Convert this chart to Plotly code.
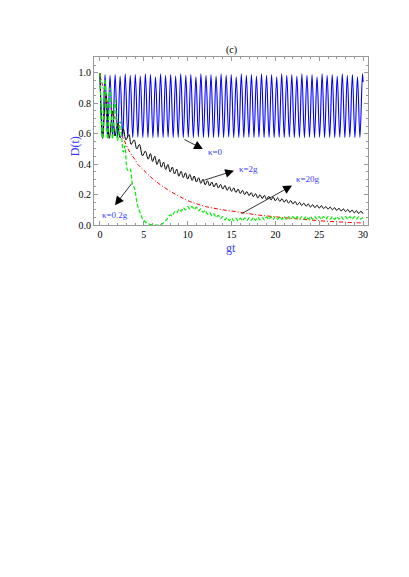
import plotly.graph_objects as go

# kappa = 0 (blue, undamped oscillation) - peaks / troughs
t_k0 = [0.00, 0.29, 0.58, 0.86, 1.15, 1.44, 1.73, 2.01, 2.30, 2.59,
        2.88, 3.17, 3.45, 3.74, 4.03, 4.32, 4.60, 4.89, 5.18, 5.47,
        5.76, 6.04, 6.33, 6.62, 6.91, 7.20, 7.48, 7.77, 8.06, 8.35,
        8.63, 8.92, 9.21, 9.50, 9.79, 10.07, 10.36, 10.65, 10.94, 11.22,
        11.51, 11.80, 12.09, 12.38, 12.66, 12.95, 13.24, 13.53, 13.81, 14.10,
        14.39, 14.68, 14.97, 15.25, 15.54, 15.83, 16.12, 16.40, 16.69, 16.98,
        17.27, 17.56, 17.84, 18.13, 18.42, 18.71, 18.99, 19.28, 19.57, 19.86,
        20.15, 20.43, 20.72, 21.01, 21.30, 21.59, 21.87, 22.16, 22.45, 22.74,
        23.02, 23.31, 23.60, 23.89, 24.18, 24.46, 24.75, 25.04, 25.33, 25.61,
        25.90, 26.19, 26.48, 26.77, 27.05, 27.34, 27.63, 27.92, 28.20, 28.49,
        28.78, 29.07, 29.36, 29.64, 29.93, 30.00]
d_k0 = [1.00, 0.575, 0.99, 0.575, 0.985, 0.578, 0.99, 0.576, 0.98, 0.575,
        0.995, 0.577, 0.985, 0.575, 0.99, 0.578, 0.98, 0.575, 0.995, 0.576,
        0.99, 0.575, 0.975, 0.577, 0.995, 0.575, 0.985, 0.578, 0.99, 0.575,
        0.98, 0.576, 0.995, 0.575, 0.985, 0.577, 0.99, 0.575, 0.975, 0.578,
        0.995, 0.575, 0.985, 0.576, 0.99, 0.575, 0.98, 0.577, 0.995, 0.575,
        0.985, 0.578, 0.99, 0.575, 0.975, 0.576, 0.995, 0.575, 0.985, 0.577,
        0.99, 0.575, 0.98, 0.578, 0.995, 0.575, 0.985, 0.576, 0.99, 0.575,
        0.975, 0.577, 0.995, 0.575, 0.985, 0.578, 0.99, 0.575, 0.98, 0.576,
        0.995, 0.575, 0.985, 0.577, 0.99, 0.575, 0.975, 0.578, 0.995, 0.575,
        0.985, 0.576, 0.99, 0.575, 0.98, 0.577, 0.995, 0.575, 0.985, 0.578,
        0.99, 0.575, 0.975, 0.576, 0.995, 0.94]

# kappa = 2g (black)
t_k2 = [0.00, 0.30, 0.68, 1.06, 1.44, 1.72, 2.00, 2.30, 2.66, 2.96,
        3.30, 3.55, 3.90, 4.20, 4.50, 4.85, 5.17,
        5.50, 5.75, 6.00, 6.25, 6.50, 6.75, 7.00, 7.25, 7.50, 7.75,
        8.00, 8.25, 8.50, 8.75, 9.00, 9.25, 9.50, 9.75, 10.00, 10.25,
        10.50, 10.75, 11.00, 11.25, 11.50, 11.75, 12.00, 12.25, 12.50, 12.75,
        13.00, 13.25, 13.50, 13.75, 14.00, 14.25, 14.50, 14.75, 15.00, 15.25,
        15.50, 15.75, 16.00, 16.25, 16.50, 16.75, 17.00, 17.25, 17.50, 17.75,
        18.00, 18.25, 18.50, 18.75, 19.00, 19.25, 19.50, 19.75, 20.00, 20.25,
        20.50, 20.75, 21.00, 21.25, 21.50, 21.75, 22.00, 22.25, 22.50, 22.75,
        23.00, 23.25, 23.50, 23.75, 24.00, 24.25, 24.50, 24.75, 25.00, 25.25,
        25.50, 25.75, 26.00, 26.25, 26.50, 26.75, 27.00, 27.25, 27.50, 27.75,
        28.00, 28.25, 28.50, 28.75, 29.00, 29.25, 29.50, 29.75, 30.00]
d_k2 = [1.000, 0.570, 0.860, 0.570, 0.750, 0.585, 0.670, 0.574, 0.630, 0.560,
        0.595, 0.530, 0.560, 0.500, 0.530, 0.455, 0.486,
        0.433, 0.470, 0.418, 0.452, 0.398, 0.432, 0.380, 0.413, 0.365, 0.398,
        0.350, 0.381, 0.336, 0.367, 0.321, 0.353, 0.312, 0.343, 0.302, 0.332,
        0.293, 0.322, 0.283, 0.311, 0.274, 0.301, 0.264, 0.291, 0.257, 0.283,
        0.250, 0.276, 0.243, 0.267, 0.236, 0.260, 0.228, 0.251, 0.222, 0.244,
        0.214, 0.236, 0.207, 0.228, 0.200, 0.220, 0.193, 0.213, 0.186, 0.206,
        0.178, 0.199, 0.174, 0.194, 0.169, 0.189, 0.164, 0.184, 0.159, 0.178,
        0.155, 0.173, 0.150, 0.167, 0.144, 0.161, 0.138, 0.155, 0.132, 0.149,
        0.128, 0.144, 0.123, 0.139, 0.118, 0.134, 0.114, 0.130, 0.111, 0.127,
        0.108, 0.122, 0.104, 0.118, 0.100, 0.114, 0.096, 0.110, 0.092, 0.106,
        0.088, 0.102, 0.084, 0.098, 0.080, 0.094, 0.076, 0.090, 0.074]

# kappa = 20g (red, dash-dot)
t_k20 = [0.0, 0.25, 0.5, 0.75, 1.0, 1.25, 1.5, 2.0, 2.4, 3.0, 3.5, 4.0, 4.3,
         5.0, 6.0, 7.0, 8.0, 9.0, 10.0, 11.0, 12.0, 13.0, 14.0, 15.0, 16.0,
         17.0, 18.0, 20.0, 22.0, 24.0, 26.0, 28.0, 30.0]
d_k20 = [1.0, 0.93, 0.87, 0.82, 0.79, 0.765, 0.73, 0.665, 0.61, 0.525, 0.47,
         0.43, 0.40, 0.36, 0.305, 0.26, 0.222, 0.19, 0.16, 0.14, 0.122, 0.11,
         0.10, 0.092, 0.083, 0.074, 0.066, 0.054, 0.043, 0.033, 0.024, 0.018,
         0.013]

# kappa = 0.2g (green, dashed)
t_k02 = [0.00, 0.29, 0.57, 0.86, 1.14, 1.43, 1.72, 2.00, 2.30, 2.66,
         2.85, 3.15, 3.42, 3.70, 3.95, 4.20, 4.40, 4.65, 4.90, 5.30,
         5.70, 6.20, 6.70, 7.20, 7.60,
         8.00, 8.25, 8.50, 8.75, 9.00, 9.25, 9.50, 9.75, 10.00, 10.25,
         10.50, 10.75, 11.00, 11.25, 11.50, 11.75, 12.00, 12.25, 12.50, 12.75,
         13.00, 13.25, 13.50, 13.75, 14.00, 14.25, 14.50, 14.75, 15.00, 15.25,
         15.50, 15.75, 16.00, 16.25, 16.50, 16.75, 17.00, 17.25, 17.50, 17.75,
         18.00, 18.25, 18.50, 18.75, 19.00, 19.25, 19.50, 19.75, 20.00, 20.25,
         20.50, 20.75, 21.00, 21.25, 21.50, 21.75, 22.00, 22.25, 22.50, 22.75,
         23.00, 23.25, 23.50, 23.75, 24.00, 24.25, 24.50, 24.75, 25.00, 25.25,
         25.50, 25.75, 26.00, 26.25, 26.50, 26.75, 27.00, 27.25, 27.50, 27.75,
         28.00, 28.25, 28.50, 28.75, 29.00, 29.25, 29.50, 29.75, 30.00]
d_k02 = [1.000, 0.570, 0.960, 0.565, 0.900, 0.565, 0.820, 0.555, 0.680, 0.480,
         0.520, 0.360, 0.370, 0.270, 0.240, 0.150, 0.110, 0.070, 0.036, 0.015,
         0.004, 0.000, 0.000, 0.012, 0.035,
         0.067, 0.059, 0.087, 0.078, 0.104, 0.091, 0.114, 0.100, 0.121, 0.104,
         0.122, 0.102, 0.117, 0.094, 0.107, 0.084, 0.096, 0.072, 0.084, 0.060,
         0.073, 0.050, 0.063, 0.041, 0.055, 0.034, 0.049, 0.029, 0.046, 0.027,
         0.045, 0.027, 0.045, 0.028, 0.046, 0.029, 0.047, 0.030, 0.049, 0.031,
         0.050, 0.033, 0.051, 0.034, 0.053, 0.035, 0.054, 0.036, 0.055, 0.037,
         0.055, 0.037, 0.055, 0.038, 0.056, 0.038, 0.056, 0.038, 0.055, 0.037,
         0.055, 0.038, 0.056, 0.038, 0.056, 0.038, 0.055, 0.037, 0.055, 0.038,
         0.056, 0.038, 0.056, 0.038, 0.055, 0.037, 0.055, 0.038, 0.056, 0.038,
         0.056, 0.038, 0.055, 0.037, 0.055, 0.038, 0.056, 0.038, 0.055]

x_ticks = [0, 5, 10, 15, 20, 25, 30]
y_ticks = [0.0, 0.2, 0.4, 0.6, 0.8, 1.0]

# curve labels: text, label position, arrow tail, arrow head
labels = [
    ("κ=0", 13.2, 0.477, 9.46, 0.567, 11.74, 0.50),
    ("κ=2g", 16.9, 0.369, 11.74, 0.292, 15.28, 0.357),
    ("κ=20g", 23.7, 0.305, 15.96, 0.069, 21.9, 0.259),
    ("κ=0.2g", 1.7, 0.064, 3.73, 0.281, 1.71, 0.13),
]

serif = "Liberation Serif, Times New Roman, serif"
label_blue = "#3c3cff"

fig = go.Figure()
fig.add_trace(go.Scatter(x=t_k0, y=d_k0, mode="lines",
                         line=dict(color="#0000ff", width=1.1, shape="spline")))
fig.add_trace(go.Scatter(x=t_k2, y=d_k2, mode="lines",
                         line=dict(color="#000000", width=1.0, shape="spline")))
fig.add_trace(go.Scatter(x=t_k20, y=d_k20, mode="lines",
                         line=dict(color="#ff0000", width=1.0, shape="spline",
                                   dash="4px,2px,1px,2px")))
fig.add_trace(go.Scatter(x=t_k02, y=d_k02, mode="lines",
                         line=dict(color="#00ee00", width=1.2, shape="spline",
                                   dash="4px,2px")))

for text, lx, ly, tx, ty, hx, hy in labels:
    fig.add_annotation(x=hx, y=hy, ax=tx, ay=ty, xref="x", yref="y",
                       axref="x", ayref="y", text="", showarrow=True,
                       arrowhead=2, arrowsize=2.2, arrowwidth=0.8,
                       arrowcolor="black")
    fig.add_annotation(x=lx, y=ly, xref="x", yref="y", text=text,
                       showarrow=False,
                       font=dict(family=serif, size=9, color=label_blue))

fig.add_annotation(x=0.5, y=1.0, xref="paper", yref="paper", text="(c)",
                   showarrow=False, yanchor="bottom", yshift=-1,
                   font=dict(family=serif, size=10, color="black"))
fig.add_annotation(x=0.5, y=-0.135, xref="paper", yref="paper", text="gt",
                   showarrow=False, xanchor="center", yanchor="middle",
                   font=dict(family=serif, size=12, color=label_blue))
fig.add_annotation(x=-0.069, y=0.47, xref="paper", yref="paper", text="D(t)",
                   showarrow=False, textangle=-90, xanchor="center",
                   yanchor="middle",
                   font=dict(family=serif, size=12, color=label_blue))

axis_style = dict(showgrid=False, zeroline=False, showline=True,
                  linecolor="#999999", linewidth=1, mirror="allticks",
                  ticks="inside", ticklen=4, tickcolor="#999999",
                  tickfont=dict(family=serif, size=10, color="black"))

fig.update_xaxes(range=[-0.68, 30.56], tickvals=x_ticks,
                 minor=dict(dtick=1, ticklen=2, ticks="inside",
                            tickcolor="#999999"),
                 **axis_style)
fig.update_yaxes(range=[0, 1.105], tickvals=y_ticks, tickformat=".1f",
                 minor=dict(dtick=0.05, ticklen=2, ticks="inside",
                            tickcolor="#999999"),
                 **axis_style)

# page body has an 8px margin, so the figure is sized to fit inside the window
fig.update_layout(width=401, height=569, showlegend=False,
                  margin=dict(l=86, r=41, t=49, b=352),
                  paper_bgcolor="white", plot_bgcolor="white")

fig.write_html("out.html")
